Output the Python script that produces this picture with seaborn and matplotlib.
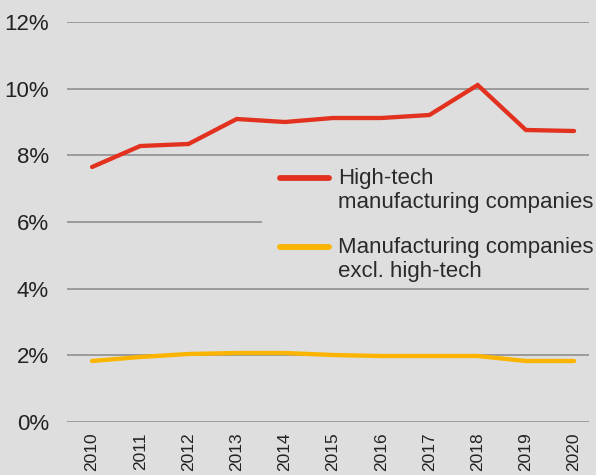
import matplotlib
matplotlib.use("Agg")
import matplotlib.pyplot as plt
import seaborn as sns
import pandas as pd
from matplotlib.ticker import FuncFormatter
from matplotlib.patches import Rectangle

years = [2010, 2011, 2012, 2013, 2014, 2015, 2016, 2017, 2018, 2019, 2020]
high_tech = [7.65, 8.28, 8.34, 9.09, 9.00, 9.12, 9.12, 9.21, 10.11, 8.76, 8.73]
excl_high_tech = [1.83, 1.95, 2.04, 2.07, 2.07, 2.01, 1.98, 1.98, 1.98, 1.83, 1.83]
series_names = ["High-tech\nmanufacturing companies", "Manufacturing companies\nexcl. high-tech"]
colors = ["#e2321f", "#fbb400"]
y_ticks = [0, 2, 4, 6, 8, 10, 12]

df = pd.DataFrame({
    "year": years * 2,
    "value": high_tech + excl_high_tech,
    "series": [series_names[0]] * len(years) + [series_names[1]] * len(years),
})

sns.set_theme(style="white")
plt.rcParams["font.family"] = ["Liberation Sans", "DejaVu Sans"]
bg = "#dedede"

fig = plt.figure(figsize=(5.96, 4.75), dpi=100, facecolor=bg)
ax = fig.add_axes([67/596, 1-422/475, (589-67)/596, (422-22)/475], facecolor=bg)

sns.lineplot(data=df, x="year", y="value", hue="series", palette=colors,
             linewidth=3.1, ax=ax, legend=True)
for ln in ax.lines:
    ln.set_solid_capstyle("round")
    ln.set_solid_joinstyle("miter")

ax.set_xlim(2009.48, 2020.31)
ax.set_ylim(0, 12)
ax.set_yticks(y_ticks)
ax.yaxis.set_major_formatter(FuncFormatter(lambda v, p: f"{int(v)}%"))
ax.set_xticks(years)
ax.set_xticklabels([str(y) for y in years], rotation=90, fontsize=12.5, color="#222222")
ax.tick_params(axis="y", labelsize=16, colors="#222222", length=0, pad=13)
ax.tick_params(axis="x", length=0, pad=7.5)
ax.grid(axis="y", color="#888888", linewidth=1.1)
ax.set_axisbelow(True)
for s in ax.spines.values():
    s.set_visible(False)
ax.set_xlabel("")
ax.set_ylabel("")

# legend backing box that hides gridlines behind it
ax.add_patch(Rectangle((262/596, 1-286/475), (596-262)/596, (286-157)/475,
                       transform=fig.transFigure, facecolor=bg, edgecolor="none",
                       zorder=1, clip_on=False))

leg = ax.legend(loc="upper left", bbox_to_anchor=(280/596, 1-168/475),
                bbox_transform=fig.transFigure, frameon=False, fontsize=16,
                handlelength=2.2, handletextpad=0.4, borderpad=0,
                labelspacing=1.08, borderaxespad=0)
for t in leg.get_texts():
    t.set_color("#2a2a2a")
    t.set_linespacing(1.2)
for h in leg.legend_handles:
    h.set_linewidth(4.2)
    h.set_solid_capstyle("round")
    yd = h.get_ydata()
    h.set_ydata([y + 9.5 for y in yd])

fig.savefig("out.png", dpi=100, facecolor=bg)
